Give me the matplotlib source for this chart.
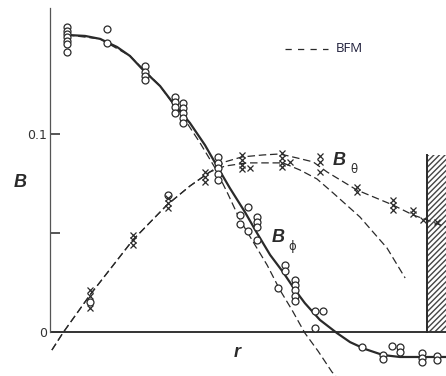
import matplotlib
matplotlib.use("Agg")
import matplotlib.pyplot as plt
from matplotlib.patches import Rectangle

# measured B_phi (open circles)
phi_r = [0.045] * 7 + [0.151] * 2 + [0.252] * 4 + [0.332] * 4 + [0.353] * 5 + [0.446] * 5 \
    + [0.504, 0.504, 0.525, 0.525, 0.549, 0.549, 0.549, 0.549] \
    + [0.623, 0.623, 0.605, 0.650, 0.650, 0.650, 0.650, 0.650] \
    + [0.703, 0.703, 0.724, 0.828, 0.883, 0.883, 0.907, 0.928, 0.928,
       0.987, 0.987, 0.987, 1.027, 1.027, 0.313, 0.106]
phi_b = [0.1540, 0.1520, 0.1505, 0.1490, 0.1470, 0.1455, 0.1414,
         0.1530, 0.1460,
         0.1343, 0.1313, 0.1293, 0.1273,
         0.1187, 0.1162, 0.1136, 0.1106,
         0.1157, 0.1131, 0.1106, 0.1081, 0.1056,
         0.0884, 0.0854, 0.0828, 0.0798, 0.0768,
         0.0591, 0.0545, 0.0631, 0.0510, 0.0581, 0.0556, 0.0530, 0.0465,
         0.0338, 0.0308, 0.0222, 0.0263, 0.0237, 0.0212, 0.0182, 0.0157,
         0.0106, 0.0020, 0.0106, -0.0076, -0.0116, -0.0136, -0.0071, -0.0076, -0.0101,
         -0.0106, -0.0131, -0.0152, -0.0121, -0.0141, 0.0692, 0.0152]

# measured B_theta (crosses)
theta_r = [0.106] * 3 + [0.220] * 3 + [0.313] * 3 + [0.411] * 3 + [0.509] * 4 + [0.531] \
    + [0.615] * 4 + [0.637] + [0.716] * 3 + [0.814] * 2 + [0.910] * 3 + [0.963] * 2 \
    + [0.989, 1.027]
theta_b = [0.0212, 0.0182, 0.0121,
           0.0490, 0.0465, 0.0439,
           0.0677, 0.0652, 0.0626,
           0.0808, 0.0783, 0.0758,
           0.0894, 0.0869, 0.0843, 0.0823, 0.0828,
           0.0904, 0.0879, 0.0854, 0.0833, 0.0859,
           0.0889, 0.0859, 0.0808,
           0.0732, 0.0707,
           0.0667, 0.0641, 0.0616,
           0.0616, 0.0596,
           0.0566, 0.0556]

# fitted B_phi profile (solid)
fit_phi_r = [0.045, 0.093, 0.133, 0.178, 0.212, 0.247, 0.292, 0.326, 0.371, 0.411, 0.446,
             0.477, 0.517, 0.549, 0.584, 0.618, 0.650, 0.676, 0.716, 0.761, 0.796, 0.836,
             0.883, 0.928, 1.050]
fit_phi_b = [0.1500, 0.1495, 0.1480, 0.1439, 0.1394, 0.1323, 0.1242, 0.1157, 0.1056, 0.0944,
             0.0828, 0.0727, 0.0606, 0.0500, 0.0389, 0.0303, 0.0212, 0.0146, 0.0061, -0.0005,
             -0.0051, -0.0086, -0.0116, -0.0126, -0.0126]

# BFM B_phi (dashed)
bfm_phi_r = [0.045, 0.133, 0.212, 0.292, 0.358, 0.398, 0.438, 0.472, 0.504, 0.544, 0.576,
             0.610, 0.642, 0.676, 0.711, 0.748, 0.758]
bfm_phi_b = [0.1500, 0.1480, 0.1394, 0.1242, 0.1071, 0.0955, 0.0828, 0.0697, 0.0566, 0.0439,
             0.0338, 0.0212, 0.0111, -0.0005, -0.0096, -0.0202, -0.0222]

# fitted B_theta profile (dashed, runs into the wall)
fit_theta_r = [0.005, 0.034, 0.106, 0.220, 0.310, 0.371, 0.424, 0.464, 0.509, 0.565, 0.610,
               0.655, 0.698, 0.735, 0.814, 0.910, 0.963, 1.000, 1.050]
fit_theta_b = [-0.0091, -0.0005, 0.0187, 0.0465, 0.0641, 0.0737, 0.0808, 0.0859, 0.0884,
               0.0894, 0.0899, 0.0879, 0.0859, 0.0808, 0.0717, 0.0641, 0.0591, 0.0566, 0.0530]

# BFM B_theta (dashed)
bfm_theta_r = [0.005, 0.034, 0.106, 0.220, 0.310, 0.371, 0.424, 0.464, 0.523, 0.576, 0.618,
               0.663, 0.708, 0.751, 0.822, 0.894, 0.942]
bfm_theta_b = [-0.0091, -0.0005, 0.0187, 0.0465, 0.0641, 0.0737, 0.0808, 0.0838, 0.0854,
               0.0854, 0.0854, 0.0818, 0.0773, 0.0702, 0.0581, 0.0424, 0.0273]

ink = "#2a2a2a"
dash = (0, (6, 3))

fig = plt.figure(figsize=(4.46, 3.76), dpi=100)
ax = fig.add_axes([50 / 446, 0, 396 / 446, 368 / 376])
ax.set_xlim(0, 1.0504)
ax.set_ylim(-0.0222, 0.1636)

ax.plot(fit_phi_r, fit_phi_b, color=ink, lw=1.6, zorder=3)
ax.plot(bfm_phi_r, bfm_phi_b, color=ink, lw=0.9, linestyle=dash, zorder=3)
ax.plot(fit_theta_r, fit_theta_b, color=ink, lw=0.9, linestyle=dash, zorder=3)
ax.plot(bfm_theta_r, bfm_theta_b, color=ink, lw=0.9, linestyle=dash, zorder=3)

ax.plot(phi_r, phi_b, linestyle="none", marker="o", ms=5, mfc="white", mec=ink, mew=0.9, zorder=4)
ax.plot(theta_r, theta_b, linestyle="none", marker="x", ms=4.5, color=ink, mew=0.9, zorder=4)

# conducting wall
ax.add_patch(Rectangle((1.0, 0), 0.1, 0.0894, hatch="//////", fill=False,
                       lw=0, edgecolor="#444", zorder=2))
ax.plot([1.0, 1.0], [0, 0.0894], color=ink, lw=1.4, zorder=3)

# axes
for side in ["top", "right", "bottom"]:
    ax.spines[side].set_visible(False)
ax.spines["left"].set_bounds(0, 0.1636)
ax.spines["left"].set_color("#555")
ax.spines["left"].set_linewidth(0.9)
ax.axhline(0, color="#333", lw=1.4, zorder=2)
ax.set_xticks([])
ax.set_yticks([0, 0.05, 0.1])
ax.set_yticklabels(["0", "", "0.1"])
ax.tick_params(axis="y", direction="in", length=7, width=1.4, color="#555",
               labelsize=9, labelcolor="#333", pad=2)

lab = dict(family="Liberation Sans", weight="bold", style="italic", color=ink)
ax.text(-0.08, 0.0755, "B", fontsize=13, ha="center", va="center", **lab)
ax.text(0.497, -0.0101, "r", fontsize=13, ha="center", va="center", **lab)
ax.text(0.767, 0.0868, "B", fontsize=13, ha="center", va="center", **lab)
ax.text(0.806, 0.0823, "θ", fontsize=8.5, ha="center", va="center", color=ink)
ax.text(0.605, 0.0477, "B", fontsize=13, ha="center", va="center", **lab)
ax.text(0.643, 0.0434, "ϕ", fontsize=8.5, ha="center", va="center", color=ink)

# legend entry
ax.plot([0.623, 0.738], [0.1430, 0.1430], color=ink, lw=0.9, linestyle=(0, (5, 5)))
ax.text(0.757, 0.1430, "BFM", fontsize=9.5, family="Open Sans", color="#1e1e3a",
        ha="left", va="center")

fig.savefig("out.png", dpi=100)
